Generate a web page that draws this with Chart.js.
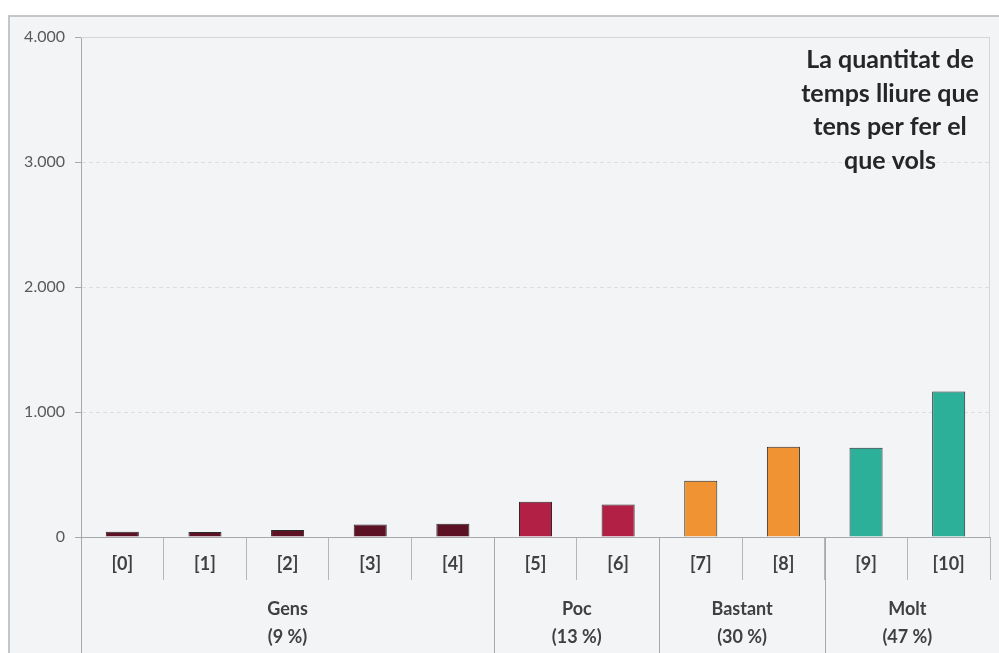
<!DOCTYPE html>
<html>
<head>
<meta charset="utf-8">
<script src="https://cdn.jsdelivr.net/npm/chart.js@4/dist/chart.umd.min.js"></script>
<style>
  html, body { margin: 0; padding: 0; background: #ffffff; }
  #frame { position: absolute; left: 8px; top: 15px; width: 991px; height: 638px;
           border-left: 2px solid #c4c6ca; border-top: 2px solid #c4c6ca; background: #f3f4f6; box-sizing: border-box; }
  #wrap { position: absolute; left: 0; top: 0; width: 989px; height: 636px; }
</style>
</head>
<body>
<div id="frame"><div id="wrap"><canvas id="c"></canvas></div></div>
<script>
const categories = ['[0]', '[1]', '[2]', '[3]', '[4]', '[5]', '[6]', '[7]', '[8]', '[9]', '[10]'];
const values = [42, 40, 56, 101, 106, 283, 261, 451, 723, 715, 1165];
const groupNames = ['Gens', 'Poc', 'Bastant', 'Molt'];
const groupShares = ['(9 %)', '(13 %)', '(30 %)', '(47 %)'];
const groupStart = [0, 5, 7, 9];
const groupEnd = [4, 6, 8, 10];
const groupColors = ['#5c1124', '#b22045', '#f09433', '#2cb09a'];
const yTicks = [0, 1000, 2000, 3000, 4000];
const titleLines = ['La quantitat de', 'temps lliure que', 'tens per fer el', 'que vols'];

const FONT = 'Lato, "Open Sans", sans-serif';

const barColors = categories.map((_, i) => {
  const g = groupStart.findIndex((s, k) => i >= s && i <= groupEnd[k]);
  return groupColors[g];
});

function fmt(v) {
  return String(v).replace(/\B(?=(\d{3})+(?!\d))/g, '.');
}

const decor = {
  id: 'decor',
  afterDraw(chart) {
    const ctx = chart.ctx;
    const x = chart.scales.x;
    const a = chart.chartArea;
    const H = chart.height;
    ctx.save();
    ctx.strokeStyle = '#d3d5d9';
    ctx.lineWidth = 1;
    ctx.beginPath();
    ctx.moveTo(a.left, a.top + 0.5); ctx.lineTo(a.right, a.top + 0.5);
    ctx.moveTo(a.right - 0.5, a.top); ctx.lineTo(a.right - 0.5, a.bottom);
    ctx.stroke();
    ctx.strokeStyle = '#a6a8ab';
    ctx.beginPath();
    ctx.moveTo(a.left + 0.5, a.bottom); ctx.lineTo(a.left + 0.5, H);
    for (let k = 1; k < groupStart.length; k++) {
      const px = Math.round((x.getPixelForValue(groupStart[k] - 1) + x.getPixelForValue(groupStart[k])) / 2) + 0.5;
      ctx.moveTo(px, a.bottom); ctx.lineTo(px, H);
    }
    ctx.stroke();
    ctx.fillStyle = '#404040';
    ctx.font = 'bold 18px ' + FONT;
    ctx.textAlign = 'center';
    ctx.textBaseline = 'middle';
    for (let k = 0; k < groupNames.length; k++) {
      const cx = (x.getPixelForValue(groupStart[k]) + x.getPixelForValue(groupEnd[k])) / 2;
      ctx.fillText(groupNames[k], cx, a.bottom + 72);
      ctx.fillText(groupShares[k], cx, a.bottom + 100);
    }
    ctx.fillStyle = '#262626';
    ctx.font = 'bold 25px ' + FONT;
    titleLines.forEach((t, i) => ctx.fillText(t, a.right - 100, a.top + 23 + i * 33.5));
    ctx.restore();
  }
};

new Chart(document.getElementById('c'), {
  type: 'bar',
  data: {
    labels: categories,
    datasets: [{
      data: values,
      backgroundColor: barColors,
      borderColor: '#2b2b2b',
      borderWidth: 1,
      categoryPercentage: 1,
      barPercentage: 0.4
    }]
  },
  options: {
    responsive: true,
    maintainAspectRatio: false,
    animation: false,
    events: [],
    layout: { padding: { top: 20, right: 9, left: 0, bottom: 0 } },
    plugins: { legend: { display: false }, tooltip: { enabled: false }, title: { display: false } },
    scales: {
      x: {
        offset: true,
        grid: {
          offset: true,
          drawOnChartArea: false,
          tickLength: 43,
          tickColor: '#b4b6b9',
          lineWidth: 1
        },
        border: { color: '#a6a8ab', width: 1 },
        ticks: {
          color: '#404040',
          font: { family: FONT, size: 18, weight: 'bold' },
          padding: -27,
          maxRotation: 0,
          autoSkip: false
        },
        afterFit(s) { s.height = 116; }
      },
      y: {
        min: 0,
        max: 4000,
        afterBuildTicks(s) { s.ticks = yTicks.map(v => ({ value: v })); },
        grid: {
          color: ctx => (ctx.tick && ctx.tick.value === 0) ? 'rgba(0,0,0,0)' : '#dcdee2',
          tickColor: '#a6a8ab',
          tickLength: 6,
          lineWidth: 1
        },
        border: { color: '#a6a8ab', width: 1, dash: [4, 3] },
        ticks: {
          color: '#595959',
          font: { family: FONT, size: 16 },
          padding: 10,
          callback: v => fmt(v)
        },
        afterFit(s) { s.width = 71; }
      }
    }
  },
  plugins: [decor]
});
</script>
</body>
</html>
